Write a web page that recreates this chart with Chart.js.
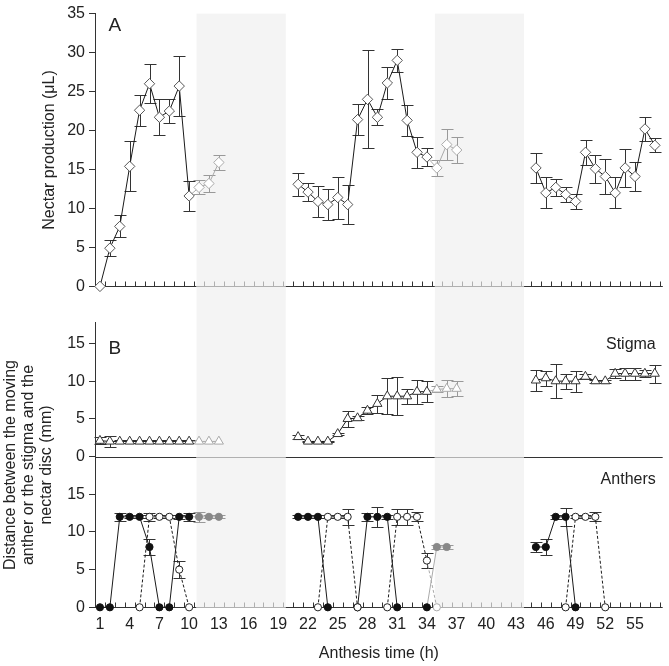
<!DOCTYPE html>
<html>
<head>
<meta charset="utf-8">
<script src="https://cdn.jsdelivr.net/npm/chart.js@4.4.1/dist/chart.umd.min.js"></script>
<style>
  body { margin: 0; background: #fff; }
  #wrap { position: relative; width: 669px; height: 666px; }
  #chartA { position: absolute; left: 0; top: 0; }
  #chartB { position: absolute; left: 0; top: 300px; }
</style>
</head>
<body>
<div id="wrap">
  <canvas id="chartA" width="669" height="300"></canvas>
  <canvas id="chartB" width="669" height="366"></canvas>
</div>
<script>
// --- data ---
// night periods (shaded), in anthesis hours
const nightBands = [[10.75, 19.75], [34.8, 43.8]];
const xTickLabels = [1, 4, 7, 10, 13, 16, 19, 22, 25, 28, 31, 34, 37, 40, 43, 46, 49, 52, 55];

// A: nectar production (uL), mean and error
const nectarHours = [1, 2, 3, 4, 5, 6, 7, 8, 9, 10, 11, 12, 13,
  21, 22, 23, 24, 25, 26, 27, 28, 29, 30, 31, 32, 33, 34, 35, 36, 37,
  45, 46, 47, 48, 49, 50, 51, 52, 53, 54, 55, 56, 57];
const nectarMean = [0, 4.9, 7.7, 15.4, 22.6, 26.0, 21.7, 22.5, 25.7, 11.6, 12.7, 13.2, 15.9,
  13.1, 12.1, 10.9, 10.5, 11.4, 10.5, 21.4, 24.0, 21.7, 26.1, 29.0, 21.3, 17.2, 16.6, 15.2, 18.2, 17.5,
  15.2, 12.0, 12.7, 11.8, 10.9, 17.2, 15.1, 14.1, 12.0, 15.2, 14.1, 20.2, 18.1];
const nectarErr = [0, 1.0, 1.4, 3.2, 2.0, 2.5, 2.3, 1.5, 3.8, 1.9, 0.9, 1.1, 1.0,
  1.5, 1.2, 2.0, 2.0, 2.7, 2.5, 2.0, 6.3, 1.0, 2.0, 1.5, 2.0, 2.0, 1.2, 1.0, 2.0, 1.7,
  1.9, 2.0, 1.1, 1.0, 1.0, 1.6, 1.8, 2.2, 2.0, 2.4, 1.9, 1.5, 0.9];

// B: stigma distance (mm), same hours as nectar
const stigmaMean = [2.1, 2.0, 2.0, 2.0, 2.0, 2.0, 2.0, 2.0, 2.0, 2.0, 2.0, 2.0, 2.0,
  2.6, 2.0, 2.0, 2.0, 3.0, 5.0, 5.1, 6.1, 7.0, 8.0, 8.0, 8.0, 8.6, 8.6, 8.9, 9.0, 9.0,
  10.1, 10.4, 10.0, 10.0, 10.0, 10.6, 10.0, 10.0, 11.0, 11.0, 11.0, 11.0, 11.0];
const stigmaErr = [0.5, 0.7, 0.2, 0.2, 0.2, 0.2, 0.2, 0.2, 0.2, 0.2, 0, 0, 0,
  0.3, 0.1, 0.1, 0.1, 0.1, 1.1, 0.3, 0.5, 1.2, 2.4, 2.5, 1.0, 1.6, 1.4, 0.4, 1.1, 1.0,
  1.4, 1.0, 2.3, 1.0, 1.4, 0.3, 0.2, 0.2, 0.6, 0.8, 0.8, 0.5, 1.2];
const stigmaOffset = 20; // stigma panel sits above the anthers panel

// B: anthers, filled circles (solid line)
const filledHours = [1, 2, 3, 4, 5, 6, 7, 8, 9, 10, 11, 12, 13, 21, 22, 23, 24, 27, 28, 29, 30, 31, 34, 35, 36, 45, 46, 47, 48, 49];
const filledMean = [0, 0, 12, 12, 12, 8, 0, 0, 12, 12, 12, 12, 12, 12, 12, 12, 0, 0, 12, 12, 12, 0, 0, 8, 8, 8, 8, 12, 12, 0];
const filledErr = [0, 0, 0.5, 0.2, 0.2, 1.1, 0, 0, 0.3, 0.5, 0.7, 0.2, 0.2, 0.2, 0.2, 0.2, 0, 0, 0.5, 1.3, 0.3, 0, 0, 0.3, 0.3, 0.6, 1.1, 0.3, 1.2, 0];

// B: anthers, open circles (dashed line)
const openHours = [5, 6, 7, 8, 9, 10, 23, 24, 25, 26, 27, 30, 31, 32, 33, 34, 35, 48, 49, 50, 51, 52];
const openMean = [0, 12, 12, 12, 5, 0, 0, 12, 12, 12, 0, 0, 12, 12, 12, 6.2, 0, 0, 12, 12, 12, 0];
const openErr = [0, 0.5, 0.2, 0.2, 1.1, 0, 0, 0.2, 0.2, 1.1, 0, 0, 1.1, 1.1, 0.6, 1.0, 0, 0, 0.2, 0.2, 0.6, 0];

const yTicksB = [0, 5, 10, 15, 20, 25, 30, 35];
const yTickLabelsB = ['0', '5', '10', '15', '0', '5', '10', '15'];

// --- styling ---
const X_MIN = 0.5, X_MAX = 57.8;
const AXIS = '#333', NIGHT_AXIS = '#b0b0b0', LINE = '#1a1a1a', NIGHT_LINE = '#aaaaaa';
const SHADE = '#f4f4f4';
const FONT = '"Liberation Sans", Arial, Helvetica, sans-serif';
Chart.defaults.font.family = FONT;
Chart.defaults.color = '#222';

function isNight(h) {
  return nightBands.some(b => h > b[0] && h < b[1]);
}
// points carry their error; a null point is slipped in wherever hours are skipped
// so that the line breaks there
function toPoints(hours, vals, errs, offset) {
  const pts = [];
  hours.forEach((h, i) => {
    if (i > 0 && h - hours[i - 1] > 1) pts.push({ x: h - 0.5, y: null, e: 0 });
    pts.push({ x: h, y: vals[i] + (offset || 0), e: errs[i] });
  });
  return pts;
}
function dayNight(day, night) {
  return ctx => (ctx.raw && isNight(ctx.raw.x)) ? night : day;
}

function makeDataset(hours, vals, errs, style, offset) {
  return Object.assign({
    data: toPoints(hours, vals, errs, offset),
    borderColor: LINE,
    borderWidth: 1,
    pointBorderWidth: 1,
    spanGaps: false,
    clip: false,
    segment: { borderColor: ctx => isNight(ctx.p1.parsed.x) ? NIGHT_LINE : LINE }
  }, style);
}

// shaded night bands
function shadePlugin(top) {
  return {
    id: 'shade',
    beforeDraw(chart) {
      const { ctx, chartArea, scales: { x } } = chart;
      const y0 = top === 'area' ? chartArea.top : 0;
      const y1 = top === 'area' ? chart.height : chartArea.bottom;
      ctx.save();
      ctx.fillStyle = SHADE;
      nightBands.forEach(b => {
        const x0 = x.getPixelForValue(b[0]), x1 = x.getPixelForValue(b[1]);
        ctx.fillRect(x0, y0, x1 - x0, y1 - y0);
      });
      ctx.restore();
    }
  };
}

// horizontal axis lines, grey over the night, with small inward ticks
function drawBaseline(chart, yVal, xFrom, withTicks) {
  const { ctx, chartArea, scales: { x, y } } = chart;
  const py = Math.round(y.getPixelForValue(yVal)) + 0.5;
  const edges = [xFrom == null ? chartArea.left : x.getPixelForValue(xFrom)];
  nightBands.forEach(b => edges.push(x.getPixelForValue(b[0]), x.getPixelForValue(b[1])));
  edges.push(chartArea.right);
  ctx.lineWidth = 1;
  for (let i = 0; i < edges.length - 1; i++) {
    ctx.strokeStyle = i % 2 ? NIGHT_AXIS : AXIS;
    ctx.beginPath();
    ctx.moveTo(edges[i], py);
    ctx.lineTo(edges[i + 1], py);
    ctx.stroke();
  }
  if (withTicks) {
    for (let h = 1.5; h < x.max; h += 1) {
      const px = Math.round(x.getPixelForValue(h)) + 0.5;
      ctx.strokeStyle = isNight(h) ? NIGHT_AXIS : AXIS;
      ctx.beginPath();
      ctx.moveTo(px, py);
      ctx.lineTo(px, py - 5);
      ctx.stroke();
    }
  }
}
function baselinePlugin(lines) {
  return {
    id: 'baselines',
    beforeDatasetsDraw(chart) {
      chart.ctx.save();
      lines.forEach(l => drawBaseline(chart, l.y, l.from, l.ticks));
      chart.ctx.restore();
    }
  };
}

// vertical error bars with caps
const errorBarPlugin = {
  id: 'errorBars',
  beforeDatasetsDraw(chart) {
    const { ctx, scales: { y } } = chart;
    ctx.save();
    ctx.lineWidth = 1;
    chart.data.datasets.forEach((ds, i) => {
      chart.getDatasetMeta(i).data.forEach((pt, j) => {
        const d = ds.data[j];
        if (d.y == null || !d.e) return;
        const px = Math.round(pt.x) + 0.5;
        const yt = Math.round(y.getPixelForValue(d.y + d.e)) + 0.5;
        const yb = Math.round(y.getPixelForValue(d.y - d.e)) + 0.5;
        ctx.strokeStyle = isNight(d.x) ? '#999' : '#333';
        ctx.beginPath();
        ctx.moveTo(px, yt); ctx.lineTo(px, yb);
        ctx.moveTo(px - 6, yt); ctx.lineTo(px + 6, yt);
        ctx.moveTo(px - 6, yb); ctx.lineTo(px + 6, yb);
        ctx.stroke();
      });
    });
    ctx.restore();
  }
};

// panel letters and series names
function textPlugin(items) {
  return {
    id: 'panelText',
    afterDraw(chart) {
      const { ctx, scales: { x, y } } = chart;
      ctx.save();
      ctx.fillStyle = '#222';
      ctx.textBaseline = 'middle';
      items.forEach(t => {
        ctx.font = t.size + 'px ' + FONT;
        ctx.textAlign = t.align;
        ctx.fillText(t.text, x.getPixelForValue(t.x), y.getPixelForValue(t.y));
      });
      ctx.restore();
    }
  };
}

function yAxis(extra) {
  return Object.assign({
    afterFit: s => { s.width = 95; },
    ticks: { color: '#222', font: { size: 16 }, padding: 4 },
    grid: { drawOnChartArea: false, tickLength: 6, color: AXIS },
    border: { color: AXIS }
  }, extra);
}

const common = {
  responsive: false,
  animation: false,
  events: [],
  plugins: { legend: { display: false }, tooltip: { enabled: false } }
};

// ---------- panel A ----------
new Chart(document.getElementById('chartA'), {
  type: 'line',
  data: {
    datasets: [makeDataset(nectarHours, nectarMean, nectarErr, {
      pointStyle: 'rectRot', pointRadius: 5.2,
      pointBackgroundColor: '#fff',
      pointBorderColor: dayNight('#555', '#aaa')
    })]
  },
  options: Object.assign({}, common, {
    layout: { padding: { top: 9, bottom: 7, left: 0, right: 0 } },
    scales: {
      x: { type: 'linear', min: X_MIN, max: X_MAX, display: false },
      y: yAxis({
        min: 0, max: 35,
        ticks: { stepSize: 5, color: '#222', font: { size: 16 }, padding: 4 },
        title: { display: true, text: 'Nectar production (μL)', color: '#222', font: { size: 16 }, padding: { top: 40 } }
      })
    }
  }),
  plugins: [shadePlugin('area'), baselinePlugin([{ y: 0, from: 1.5, ticks: true }]), errorBarPlugin,
    textPlugin([{ text: 'A', x: 2.5, y: 33.4, size: 19, align: 'center' }])]
});

// ---------- panel B ----------
new Chart(document.getElementById('chartB'), {
  type: 'line',
  data: {
    datasets: [
      makeDataset(nectarHours, stigmaMean, stigmaErr, {
        pointStyle: 'triangle', pointRadius: 5.3,
        pointBackgroundColor: '#fff',
        pointBorderColor: dayNight('#333', '#aaa')
      }, stigmaOffset),
      makeDataset(openHours, openMean, openErr, {
        pointStyle: 'circle', pointRadius: 3.6,
        borderDash: [3, 2],
        pointBackgroundColor: '#fff',
        pointBorderColor: dayNight('#222', '#aaa')
      }),
      makeDataset(filledHours, filledMean, filledErr, {
        pointStyle: 'circle', pointRadius: 3.6,
        pointBackgroundColor: dayNight('#111', '#888'),
        pointBorderColor: dayNight('#111', '#888')
      })
    ]
  },
  options: Object.assign({}, common, {
    layout: { padding: { top: 22.7, bottom: 0, left: 0, right: 0 } },
    scales: {
      x: {
        type: 'linear', min: X_MIN, max: X_MAX,
        afterBuildTicks: s => { s.ticks = xTickLabels.map(v => ({ value: v })); },
        afterFit: s => { s.height = 58.7; },
        ticks: { autoSkip: false, maxRotation: 0, color: '#222', font: { size: 16 }, padding: 8, callback: v => String(v) },
        grid: { display: false, drawTicks: false },
        border: { display: false },
        title: { display: true, text: 'Anthesis time (h)', color: '#222', font: { size: 16 }, padding: { top: 0, bottom: 3 } }
      },
      y: yAxis({
        min: 0, max: 37.75,
        afterBuildTicks: s => { s.ticks = yTicksB.map(v => ({ value: v })); },
        ticks: { color: '#222', font: { size: 16 }, padding: 4, callback: (v, i) => yTickLabelsB[i] },
        title: {
          display: true,
          text: ['Distance between the moving', 'anther or the stigma and the', 'nectar disc (mm)'],
          color: '#222', font: { size: 16, lineHeight: 1.125 }, padding: { top: 2 }
        }
      })
    }
  }),
  plugins: [shadePlugin('top'),
    baselinePlugin([{ y: stigmaOffset, from: null, ticks: false }, { y: 0, from: null, ticks: true }]),
    errorBarPlugin,
    textPlugin([
      { text: 'B', x: 2.5, y: 34.3, size: 19, align: 'center' },
      { text: 'Stigma', x: 57.1, y: 34.8, size: 16, align: 'right' },
      { text: 'Anthers', x: 57.1, y: 16.95, size: 16, align: 'right' }
    ])]
});
</script>
</body>
</html>
